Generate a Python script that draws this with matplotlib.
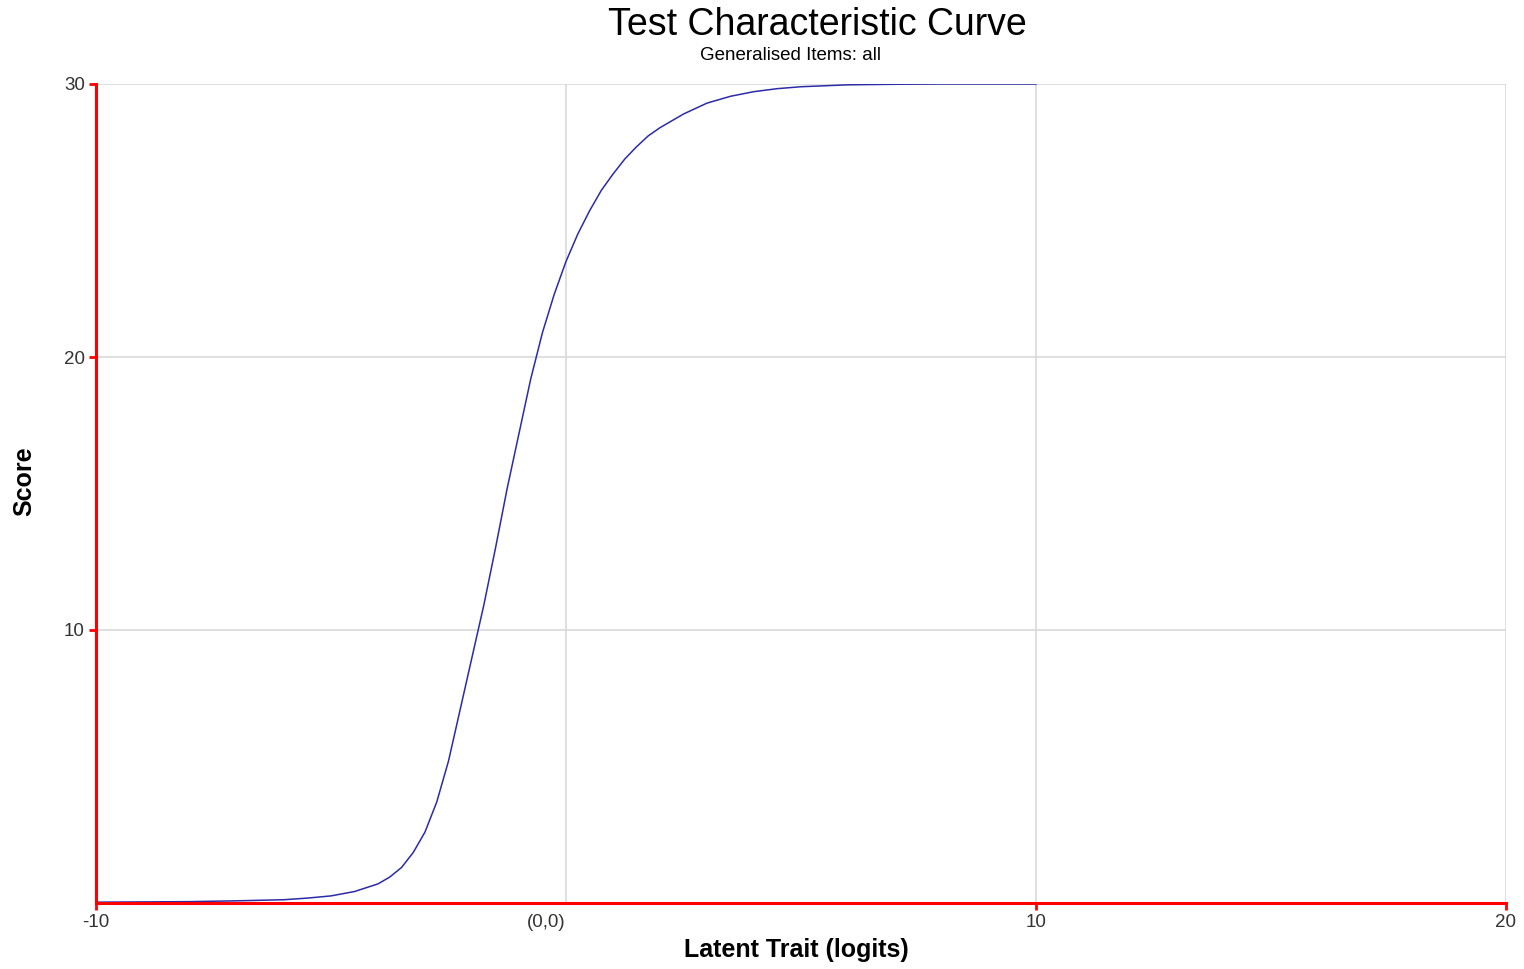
import numpy as np
import matplotlib.pyplot as plt
import matplotlib as mpl

mpl.rcParams['font.family'] = ['Liberation Sans', 'DejaVu Sans']

# latent trait (logits) and expected test score
theta = [-10, -9, -8, -7, -6, -5.5, -5, -4.5, -4, -3.75, -3.5, -3.25, -3,
         -2.75, -2.5, -2.25, -2, -1.75, -1.5, -1.25, -1, -0.75, -0.5, -0.25,
         0, 0.25, 0.5, 0.75, 1, 1.25, 1.5, 1.75, 2, 2.5, 3, 3.5, 4, 4.5, 5,
         6, 7, 8, 9, 10]
score = [0.03, 0.04, 0.05, 0.08, 0.12, 0.18, 0.26, 0.42, 0.7, 0.95, 1.3,
         1.85, 2.6, 3.7, 5.2, 7.1, 9.0, 10.9, 13.0, 15.2, 17.2, 19.2, 20.9,
         22.3, 23.5, 24.5, 25.35, 26.1, 26.7, 27.25, 27.7, 28.1, 28.4, 28.9,
         29.3, 29.55, 29.72, 29.83, 29.9, 29.97, 29.99, 30.0, 30.0, 30.0]

xticks = [-10, 0, 10, 20]
xticklabels = ['-10', '(0,0)', '10', '20']
yticks = [10, 20, 30]
yticklabels = ['10', '20', '30']

fig = plt.figure(figsize=(15.24, 9.69), dpi=100)
ax = fig.add_axes([96/1524, 1 - 903/969, 1410/1524, 819/969])

ax.plot(theta, score, color='#2b2ba8', lw=1.1, zorder=3)

ax.set_xlim(-10, 20)
ax.set_ylim(0, 30)

ax.set_xticks(xticks)
ax.set_xticklabels(xticklabels)
ax.set_yticks(yticks)
ax.set_yticklabels(yticklabels)

ax.grid(True, color='#d9d9d9', lw=1.2, zorder=0)
ax.set_axisbelow(True)

for s in ['top', 'right']:
    ax.spines[s].set_visible(False)
for s in ['left', 'bottom']:
    ax.spines[s].set_color('red')
    ax.spines[s].set_linewidth(2.2)
    ax.spines[s].set_zorder(4)

ax.tick_params(axis='both', colors='red', width=2, length=5,
               labelcolor='#333333', labelsize=13.5, pad=3)
ax.xaxis.get_major_ticks()[1].tick1line.set_visible(False)
for lbl in ax.get_xticklabels():
    if lbl.get_text() == '(0,0)':
        lbl.set_ha('right')

ax.set_xlabel('Latent Trait (logits)', fontsize=18, fontweight='bold')
ax.xaxis.set_label_coords(0.497, -35/819)
ax.set_ylabel('Score', fontsize=18, fontweight='bold')
ax.yaxis.set_label_coords(-60/1410, 0.515)

fig.text(817/1524, 1 - 25/969, 'Test Characteristic Curve', fontsize=27,
         ha='center', va='center')
fig.text(790/1524, 1 - 56/969, 'Generalised Items: all', fontsize=13.5,
         ha='center', va='center')

fig.savefig('out.png', dpi=100)
